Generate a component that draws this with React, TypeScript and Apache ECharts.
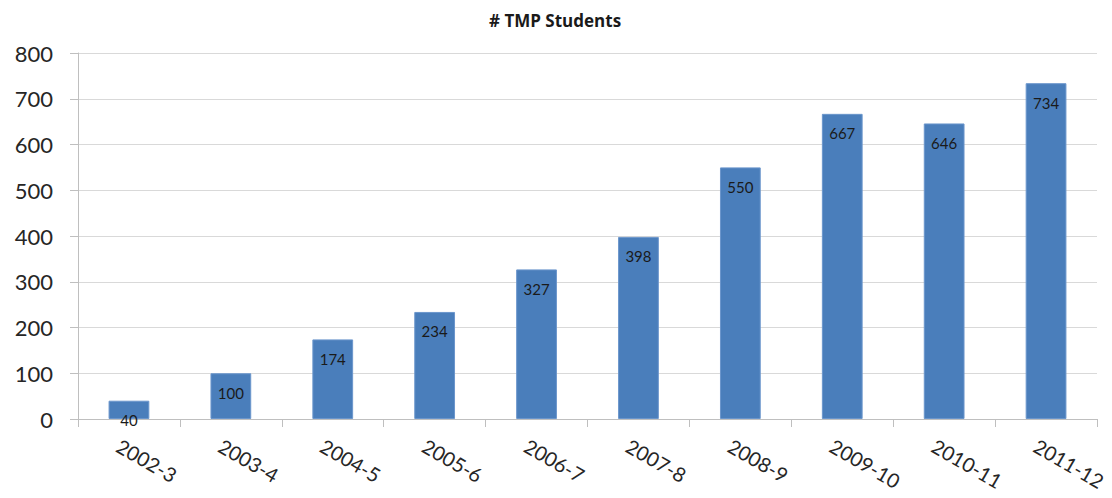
import React, { useEffect, useRef } from "react";
import * as echarts from "echarts";

const categories = ["2002-3", "2003-4", "2004-5", "2005-6", "2006-7", "2007-8", "2008-9", "2009-10", "2010-11", "2011-12"];
const students = [40, 100, 174, 234, 327, 398, 550, 667, 646, 734];
const yTicks = [0, 100, 200, 300, 400, 500, 600, 700, 800];

export default function App() {
  const ref = useRef<HTMLDivElement>(null);
  useEffect(() => {
    if (!ref.current) return;
    const chart = echarts.init(ref.current, undefined, { renderer: "svg" });
    chart.setOption({
      animation: false,
      backgroundColor: "#ffffff",
      title: {
        text: "# TMP Students",
        left: 484,
        top: 7,
        textStyle: { fontFamily: "'Open Sans', sans-serif", fontSize: 17, fontWeight: "bold", color: "#1a1a1a" },
      },
      grid: { left: 78, right: 15, top: 53, bottom: 79, containLabel: false, outerBoundsMode: "none" },
      xAxis: {
        type: "category",
        data: categories,
        axisLine: { show: true, lineStyle: { color: "#bfbfbf", width: 1 } },
        axisTick: { show: true, alignWithLabel: false, length: 8, lineStyle: { color: "#bfbfbf" } },
        axisLabel: {
          rotate: -30,
          margin: 31,
          interval: 0,
          fontFamily: "Lato, 'Open Sans', sans-serif",
          fontSize: 20,
          color: "#262626",
          padding: [0, 0, 0, -12],
        },
      },
      yAxis: {
        type: "value",
        min: yTicks[0],
        max: yTicks[yTicks.length - 1],
        interval: 100,
        axisLine: { show: true, lineStyle: { color: "#bfbfbf", width: 1 } },
        axisTick: { show: true, length: 8, lineStyle: { color: "#bfbfbf" } },
        splitLine: { show: true, lineStyle: { color: "#d9d9d9", width: 1 } },
        axisLabel: {
          margin: 25,
          fontFamily: "Lato, 'Open Sans', sans-serif",
          fontSize: 22,
          color: "#262626",
          padding: [8, 0, 0, 0],
        },
      },
      series: [
        {
          type: "bar",
          data: students,
          barWidth: "40%",
          itemStyle: { color: "#4A7EBB", borderColor: "#6b96cc", borderWidth: 1 },
          label: {
            show: true,
            position: "insideTop",
            distance: 12,
            fontFamily: "Lato, 'Open Sans', sans-serif",
            fontSize: 15,
            color: "#1a1a1a",
          },
        },
      ],
    });
    return () => chart.dispose();
  }, []);
  return <div ref={ref} style={{ position: "absolute", left: 0, top: 0, width: 1112, height: 498 }} />;
}
